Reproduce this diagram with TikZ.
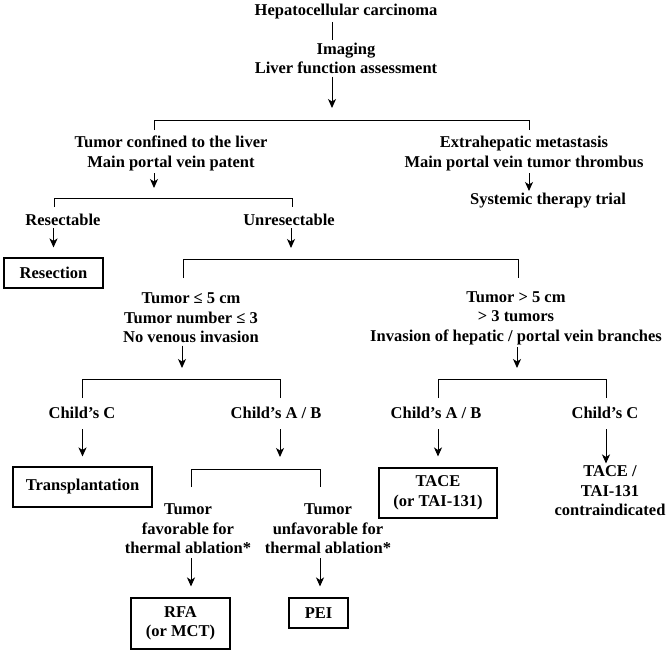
\documentclass[tikz,border=0pt]{standalone}
\usepackage{fontspec}
\setmainfont{Liberation Serif}
\usetikzlibrary{arrows.meta}
\begin{document}
\begin{tikzpicture}[x=1pt, y=-1pt, line width=1pt,
    every node/.style={font=\bfseries\fontsize{16.5}{19.5}\selectfont, inner sep=2pt, align=center},
    arr/.style={-{Stealth[length=9pt, width=8pt, inset=2.5pt]}},
    box/.style={draw, line width=1.1pt, inner sep=0pt}]
    \useasboundingbox (0,0) rectangle (667,654);
    % top of the chart
    \node (hcc)    at (346,12)   {Hepatocellular carcinoma};
    \node (img)    at (346,58.5) {Imaging\\Liver function assessment};
    \coordinate (a1)  at (332,108);
    \coordinate (b1l) at (154,130);
    \coordinate (b1r) at (529,130);
    \draw (hcc.south -| a1) -- (img.north -| a1);
    \draw[arr] (img.south -| a1) -- (a1);
    \draw (b1l) -- ++(0,-10) -| (b1r);
    % first split
    \node (conf)   at (171,153.5) {Tumor confined to the liver\\Main portal vein patent};
    \node (extra)  at (524,153.5) {Extrahepatic metastasis\\Main portal vein tumor thrombus};
    \node (sys)    at (548,201)   {Systemic therapy trial};
    \coordinate (a2)  at (154,188);
    \coordinate (b2l) at (54,207);
    \coordinate (b2r) at (292,207);
    \draw[arr] (conf.south -| a2) -- (a2);
    \draw[arr] (extra.south -| b1r) -- (sys.north -| b1r);
    \draw (b2l) -- ++(0,-9) -| (b2r);
    % resectable or not
    \node (resble) at (63,220)  {Resectable};
    \node (unres)  at (289,220) {Unresectable};
    \node[box, minimum width=99pt, minimum height=30pt] (resect) at (53.5,273) {Resection};
    \coordinate (a4)  at (291,248);
    \coordinate (b3l) at (183,278);
    \coordinate (b3r) at (518,278);
    \draw[arr, shorten >=10pt] (resble.south -| resect) -- (resect.north);
    \draw[arr] (unres.south -| a4) -- (a4);
    \draw (b3l) -- ++(0,-19) -| (b3r);
    % tumor size
    \node (small)  at (191,318) {Tumor ≤ 5 cm\\Tumor number ≤ 3\\No venous invasion};
    \node (large)  at (516,318) {Tumor > 5 cm\\> 3 tumors\\Invasion of hepatic / portal vein branches};
    \coordinate (a5)  at (182,368);
    \coordinate (a6)  at (517,368);
    \coordinate (b4l) at (82,398);
    \coordinate (b4r) at (280,398);
    \coordinate (b5l) at (438,398);
    \coordinate (b5r) at (606,398);
    \draw[arr] (small.south -| a5) -- (a5);
    \draw[arr] (large.south -| a6) -- (a6);
    \draw (b4l) -- ++(0,-19) -| (b4r);
    \draw (b5l) -- ++(0,-19) -| (b5r);
    % liver function class
    \node (cc1)    at (82,413)  {Child's C};
    \node (cab1)   at (276,413) {Child's A / B};
    \node (cab2)   at (436,413) {Child's A / B};
    \node (cc2)    at (605,413) {Child's C};
    \node[box, minimum width=139pt, minimum height=40pt] (trans) at (82.5,487) {Transplantation};
    \node[box, minimum width=118pt, minimum height=50pt] (tace)  at (438,493) {TACE\\(or TAI-131)};
    \node (contra) at (610,491) {TACE /\\TAI-131\\contraindicated};
    \coordinate (a7)  at (280,457);
    \coordinate (b6l) at (191,487);
    \coordinate (b6r) at (320,487);
    \draw[arr, shorten <=8pt, shorten >=10pt] (cc1.south -| trans) -- (trans.north);
    \draw[arr, shorten <=8pt] (cab1.south -| a7) -- (a7);
    \draw[arr, shorten <=8pt, shorten >=11pt] (cab2.south -| tace) -- (tace.north);
    \draw[arr, shorten <=8pt] (cc2.south -| b5r) -- (contra.north -| b5r);
    \draw (b6l) -- ++(0,-18) -| (b6r);
    % ablation
    \node (fav)    at (188,529) {Tumor\\favorable for\\thermal ablation*};
    \node (unfav)  at (328,529) {Tumor\\unfavorable for\\thermal ablation*};
    \node[box, minimum width=99pt, minimum height=51pt] (rfa) at (180.5,623.5) {RFA\\(or MCT)};
    \node[box, minimum width=59pt, minimum height=30pt] (pei) at (318.5,613) {PEI};
    \draw[arr, shorten <=2pt, shorten >=11pt] (fav.south -| b6l) -- (rfa.north -| b6l);
    \draw[arr, shorten <=2pt, shorten >=11pt] (unfav.south -| b6r) -- (pei.north -| b6r);
\end{tikzpicture}
\end{document}
